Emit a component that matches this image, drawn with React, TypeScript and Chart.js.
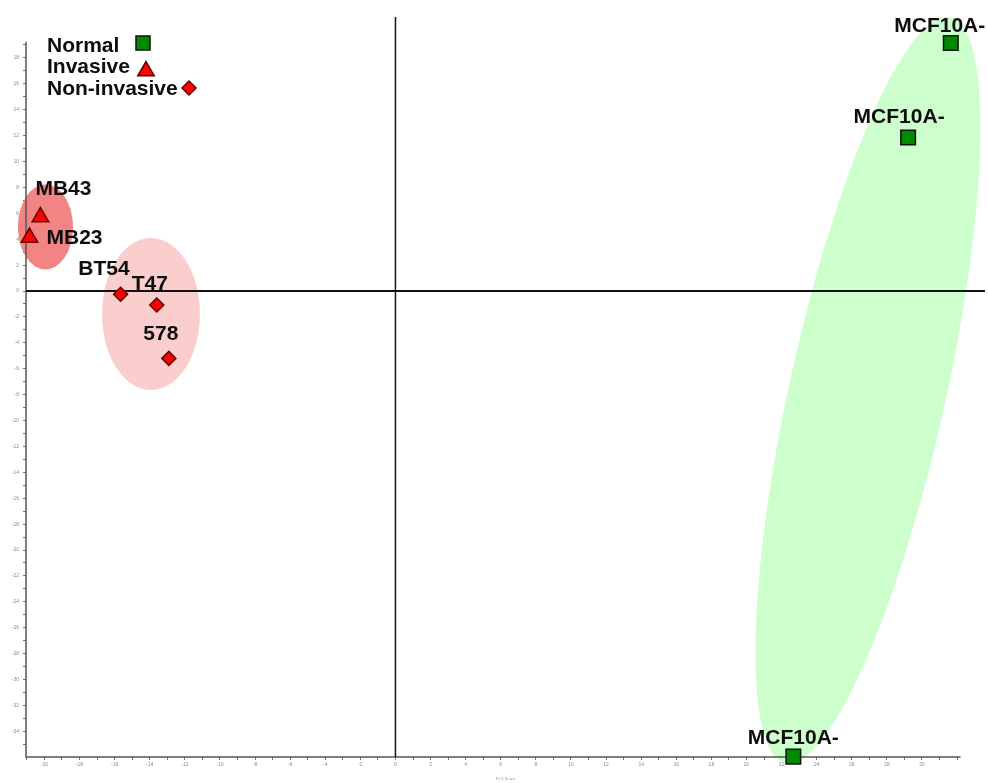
import { useEffect, useRef } from "react";
import { Chart, registerables } from "chart.js";

Chart.register(...registerables);

// PCA scores per cell line (PC1 on x, PC2 on y)
const normalNames = ["MCF10A-", "MCF10A-", "MCF10A-"];
const normalX = [31.64, 29.21, 22.67];
const normalY = [19.15, 11.85, -35.95];

const invasiveNames = ["MB43", "MB23"];
const invasiveX = [-20.23, -20.85];
const invasiveY = [5.71, 4.13];

const nonInvasiveNames = ["BT54", "T47", "578"];
const nonInvasiveX = [-15.66, -13.6, -12.91];
const nonInvasiveY = [-0.25, -1.08, -5.2];

const legendNames = ["Normal", "Invasive", "Non-invasive"];

// Labelled tick values (minor ticks fall on every integer between them)
const xTickLabels = [-20, -18, -16, -14, -12, -10, -8, -6, -4, -2, 0, 2, 4, 6, 8, 10, 12, 14, 16, 18, 20, 22, 24, 26, 28, 30];
const yTickLabels = [18, 16, 14, 12, 10, 8, 6, 4, 2, 0, -2, -4, -6, -8, -10, -12, -14, -16, -18, -20, -22, -24, -26, -28, -30, -32, -34];

// Axis extents
const X_MIN = -21.05;
const X_MAX = 33.59;
const Y_MIN = -35.98;
const Y_MAX = 21.16;
const X_AXIS_END = 32.2;
const Y_AXIS_TOP = 19.25;

// Group ellipses: centre and semi-axes in data units, rotation in degrees
const groupEllipses = [
  { cx: 26.92, cy: -7.65, rx: 4.45, ry: 29.5, rot: 12.5, color: "rgb(204,255,204)" },
  { cx: -19.94, cy: 4.94, rx: 1.57, ry: 3.28, rot: 0, color: "rgb(242,132,132)" },
  { cx: -13.93, cy: -1.78, rx: 2.79, ry: 5.87, rot: 0, color: "rgb(251,206,206)" },
];

// Label placement relative to each marker (px offsets, alphabetic baseline)
const normalLabelPos = [
  { dx: -11, dy: -11, align: "center" },
  { dx: -9, dy: -15, align: "center" },
  { dx: 0, dy: -13, align: "center" },
];
const invasiveLabelPos = [
  { dx: -5, dy: -22, align: "left" },
  { dx: 17, dy: 6, align: "left" },
];
const nonInvasiveLabelPos = [
  { dx: 9, dy: -19, align: "right" },
  { dx: -7, dy: -15, align: "center" },
  { dx: -8, dy: -18, align: "center" },
];

const LABEL_FONT = "bold 21px 'Liberation Sans', Arial, sans-serif";
const GREEN = "#008a00";
const RED = "#ff0000";

function intRange(a: number, b: number) {
  const out: { value: number }[] = [];
  for (let v = Math.ceil(a); v <= Math.floor(b); v++) out.push({ value: v });
  return out;
}

function drawSquare(ctx: CanvasRenderingContext2D, x: number, y: number, s: number) {
  ctx.beginPath();
  ctx.rect(x - s / 2, y - s / 2, s, s);
  ctx.fillStyle = GREEN;
  ctx.fill();
  ctx.lineWidth = 1.5;
  ctx.strokeStyle = "#101010";
  ctx.stroke();
}

function drawTriangle(ctx: CanvasRenderingContext2D, x: number, y: number, r: number) {
  ctx.beginPath();
  ctx.moveTo(x, y - r);
  ctx.lineTo(x + r * Math.sin(Math.PI / 3), y + r / 2);
  ctx.lineTo(x - r * Math.sin(Math.PI / 3), y + r / 2);
  ctx.closePath();
  ctx.fillStyle = RED;
  ctx.fill();
  ctx.lineWidth = 1.5;
  ctx.strokeStyle = "#600000";
  ctx.stroke();
}

function drawDiamond(ctx: CanvasRenderingContext2D, x: number, y: number, r: number) {
  ctx.beginPath();
  ctx.moveTo(x - r, y);
  ctx.lineTo(x, y - r);
  ctx.lineTo(x + r, y);
  ctx.lineTo(x, y + r);
  ctx.closePath();
  ctx.fillStyle = RED;
  ctx.fill();
  ctx.lineWidth = 1.5;
  ctx.strokeStyle = "#600000";
  ctx.stroke();
}

const overlayPlugin = {
  id: "pcaOverlay",
  beforeDatasetsDraw(chart: any) {
    const { ctx, chartArea } = chart;
    const xs = chart.scales.x;
    const ys = chart.scales.y;
    ctx.save();
    for (const e of groupEllipses) {
      const cx = xs.getPixelForValue(e.cx);
      const cy = ys.getPixelForValue(e.cy);
      const rx = Math.abs(xs.getPixelForValue(e.cx + e.rx) - cx);
      const ry = Math.abs(ys.getPixelForValue(e.cy + e.ry) - cy);
      ctx.beginPath();
      ctx.ellipse(cx, cy, rx, ry, (e.rot * Math.PI) / 180, 0, Math.PI * 2);
      ctx.fillStyle = e.color;
      ctx.fill();
    }
    // axis lines
    ctx.strokeStyle = "#555";
    ctx.lineWidth = 1.5;
    ctx.beginPath();
    ctx.moveTo(chartArea.left, ys.getPixelForValue(Y_AXIS_TOP));
    ctx.lineTo(chartArea.left, chartArea.bottom);
    ctx.lineTo(xs.getPixelForValue(X_AXIS_END), chartArea.bottom);
    ctx.stroke();
    // zero lines
    const x0 = xs.getPixelForValue(0);
    const y0 = ys.getPixelForValue(0);
    ctx.strokeStyle = "#111";
    ctx.lineWidth = 1.5;
    ctx.beginPath();
    ctx.moveTo(x0, chartArea.top);
    ctx.lineTo(x0, chartArea.bottom);
    ctx.stroke();
    ctx.lineWidth = 2;
    ctx.beginPath();
    ctx.moveTo(chartArea.left, y0);
    ctx.lineTo(chartArea.right, y0);
    ctx.stroke();
    ctx.restore();
  },
  afterDatasetsDraw(chart: any) {
    const { ctx, chartArea } = chart;
    const xs = chart.scales.x;
    const ys = chart.scales.y;
    ctx.save();
    ctx.font = LABEL_FONT;
    ctx.fillStyle = "#0d0d0d";
    ctx.textBaseline = "alphabetic";
    const groups = [
      { names: normalNames, xv: normalX, yv: normalY, pos: normalLabelPos },
      { names: invasiveNames, xv: invasiveX, yv: invasiveY, pos: invasiveLabelPos },
      { names: nonInvasiveNames, xv: nonInvasiveX, yv: nonInvasiveY, pos: nonInvasiveLabelPos },
    ];
    for (const g of groups) {
      g.names.forEach((name, i) => {
        const px = xs.getPixelForValue(g.xv[i]);
        const py = ys.getPixelForValue(g.yv[i]);
        const p = g.pos[i];
        ctx.textAlign = p.align as CanvasTextAlign;
        ctx.fillText(name, px + p.dx, py + p.dy);
      });
    }
    // legend: names with their marker to the right
    const lx = chartArea.left + 21;
    const baselines = [chartArea.top + 34.5, chartArea.top + 56, chartArea.top + 77.5];
    ctx.textAlign = "left";
    legendNames.forEach((name, i) => {
      ctx.fillStyle = "#0d0d0d";
      ctx.fillText(name, lx, baselines[i]);
    });
    drawSquare(ctx, chartArea.left + 117, chartArea.top + 26, 14);
    drawTriangle(ctx, chartArea.left + 120, chartArea.top + 54, 9.5);
    drawDiamond(ctx, chartArea.left + 163, chartArea.top + 71, 7);
    ctx.restore();
  },
};

export default function App() {
  const canvasRef = useRef<HTMLCanvasElement | null>(null);

  useEffect(() => {
    const canvas = canvasRef.current;
    if (!canvas) return;
    const toPoints = (xv: number[], yv: number[]) => xv.map((x, i) => ({ x, y: yv[i] }));

    const tickFont = { size: 5, family: "'Liberation Sans', Arial, sans-serif" };

    const chart = new Chart(canvas, {
      type: "scatter",
      data: {
        datasets: [
          {
            label: legendNames[0],
            data: toPoints(normalX, normalY),
            pointStyle: "rect",
            pointRadius: 10.3,
            backgroundColor: GREEN,
            borderColor: "#101010",
            borderWidth: 1.5,
          },
          {
            label: legendNames[1],
            data: toPoints(invasiveX, invasiveY),
            pointStyle: "triangle",
            pointRadius: 9.5,
            backgroundColor: RED,
            borderColor: "#600000",
            borderWidth: 1.5,
          },
          {
            label: legendNames[2],
            data: toPoints(nonInvasiveX, nonInvasiveY),
            pointStyle: "rectRot",
            pointRadius: 7,
            backgroundColor: RED,
            borderColor: "#600000",
            borderWidth: 1.5,
          },
        ],
      },
      options: {
        animation: false,
        responsive: true,
        maintainAspectRatio: false,
        clip: false,
        layout: { autoPadding: false, padding: { left: 0, right: 3, top: 17, bottom: 0 } },
        plugins: {
          legend: { display: false },
          tooltip: { enabled: false },
        },
        scales: {
          x: {
            type: "linear",
            min: X_MIN,
            max: X_MAX,
            afterBuildTicks: (scale: any) => {
              scale.ticks = intRange(-21, X_AXIS_END);
            },
            afterFit: (scale: any) => {
              scale.height = 26;
            },
            ticks: {
              autoSkip: false,
              maxRotation: 0,
              padding: 2,
              color: "#8a8a8a",
              font: tickFont,
              callback: (v: any) => (xTickLabels.includes(Number(v)) ? String(v) : ""),
            },
            grid: { drawOnChartArea: false, drawTicks: true, tickLength: 3, color: "#777" },
            border: { display: false },
            title: {
              display: true,
              text: "PC1 Score",
              color: "#999",
              font: { size: 4, family: "'Liberation Sans', Arial, sans-serif" },
              padding: { top: 0, bottom: 2 },
            },
          },
          y: {
            type: "linear",
            min: Y_MIN,
            max: Y_MAX,
            afterBuildTicks: (scale: any) => {
              scale.ticks = intRange(-35, Y_AXIS_TOP);
            },
            afterFit: (scale: any) => {
              scale.width = 26;
            },
            ticks: {
              autoSkip: false,
              padding: 4,
              color: "#8a8a8a",
              font: tickFont,
              callback: (v: any) => (yTickLabels.includes(Number(v)) ? String(v) : ""),
            },
            grid: { drawOnChartArea: false, drawTicks: true, tickLength: 3, color: "#777" },
            border: { display: false },
          },
        },
      },
      plugins: [overlayPlugin],
    });

    return () => chart.destroy();
  }, []);

  return (
    <div style={{ position: "fixed", left: 0, top: 0, width: 988, height: 783, background: "#fff" }}>
      <canvas ref={canvasRef} />
    </div>
  );
}
